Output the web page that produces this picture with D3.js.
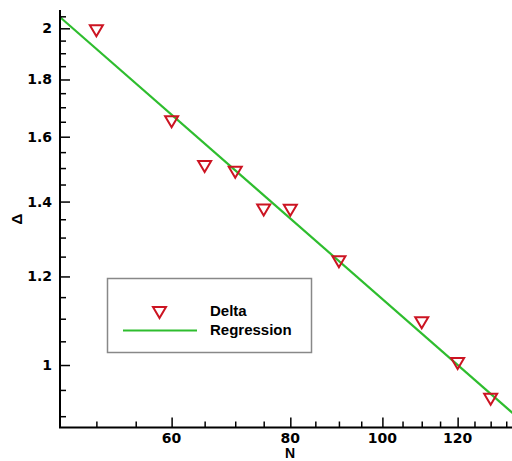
<!DOCTYPE html>
<html>
<head>
<meta charset="utf-8">
<script src="https://cdn.jsdelivr.net/npm/d3@7"></script>
<style>
  body { margin: 0; background: #fff; }
  svg { display: block; }
</style>
</head>
<body>
<svg id="chart" width="512" height="461"></svg>
<script>
// data
const nValues = [50, 60, 65, 70, 75, 80, 90, 110, 120, 130];
const deltaValues = [1.99, 1.65, 1.505, 1.487, 1.376, 1.375, 1.237, 1.091, 1.003, 0.932];

// regression line end points
const regN = [45, 140];
const regDelta = [2.073, 0.892];

const xTicks = [60, 80, 100, 120];
const xMinor = [50, 55, 65, 70, 75, 85, 90, 95, 105, 110, 115, 125, 130, 135];
const yTicks = [1, 1.2, 1.4, 1.6, 1.8, 2];
const yMinor = [0.9, 0.95, 1.05, 1.1, 1.15, 1.25, 1.3, 1.35, 1.45, 1.5, 1.55, 1.65, 1.7, 1.75, 1.85, 1.9, 1.95, 2.05];

const legendLabels = ["Delta", "Regression"];

const red = "#cc1422";
const green = "#2ebd2e";

let svg = d3.select("#chart");

const plotLeft = 60, plotRight = 512, plotTop = 10, plotBottom = 427.5;

// log-log axes
let x = d3.scaleLog().domain([45.78, 136.9]).range([plotLeft, plotRight]);
let y = d3.scaleLog().domain([0.8793, 2.0768]).range([plotBottom, plotTop]);

svg.append("defs").append("clipPath").attr("id", "plot")
  .append("rect").attr("x", plotLeft).attr("y", plotTop)
  .attr("width", plotRight - plotLeft).attr("height", plotBottom - plotTop);

// down triangle marker
const tri = "M-6.5,-5.5L6.5,-5.5L0,5.5Z";

// regression line
let line = d3.line().x((d) => x(d[0])).y((d) => y(d[1]));
svg.append("path")
  .datum(d3.zip(regN, regDelta))
  .attr("clip-path", "url(#plot)")
  .attr("d", line)
  .attr("fill", "none")
  .attr("stroke", green)
  .attr("stroke-width", 2.2);

// data points
svg.append("g")
  .selectAll("path")
  .data(d3.zip(nValues, deltaValues))
  .enter()
  .append("path")
  .attr("d", tri)
  .attr("transform", (d) => `translate(${x(d[0])},${y(d[1])})`)
  .attr("fill", "none")
  .attr("stroke", red)
  .attr("stroke-width", 2);

// axes, ticks pointing inward
let xAxis = svg.append("g").attr("transform", `translate(0,${plotBottom})`);
xAxis.call(d3.axisTop(x).tickValues(xTicks).tickSize(10).tickFormat(""));
xAxis.append("g").call(d3.axisTop(x).tickValues(xMinor).tickSize(6).tickFormat(""));
xAxis.selectAll(".domain").remove();
xAxis.selectAll("line").attr("stroke", "#000").attr("stroke-width", 1.5);

let yAxis = svg.append("g").attr("transform", `translate(${plotLeft},0)`);
yAxis.call(d3.axisRight(y).tickValues(yTicks).tickSize(10).tickFormat(""));
yAxis.append("g").call(d3.axisRight(y).tickValues(yMinor).tickSize(6).tickFormat(""));
yAxis.selectAll(".domain").remove();
yAxis.selectAll("line").attr("stroke", "#000").attr("stroke-width", 1.5);

// axis lines
svg.append("path")
  .attr("d", `M${plotLeft},${plotTop}V${plotBottom}H${plotRight}`)
  .attr("fill", "none")
  .attr("stroke", "#000")
  .attr("stroke-width", 2);

const tickFont = "'DejaVu Sans', sans-serif";

svg.append("g")
  .selectAll("text")
  .data(xTicks)
  .enter()
  .append("text")
  .attr("x", (d) => x(d))
  .attr("y", 443)
  .attr("text-anchor", "middle")
  .style("font", `bold 14px ${tickFont}`)
  .text((d) => d);

svg.append("g")
  .selectAll("text")
  .data(yTicks)
  .enter()
  .append("text")
  .attr("x", 52)
  .attr("y", (d) => y(d) + 5)
  .attr("text-anchor", "end")
  .style("font", `bold 14px ${tickFont}`)
  .text((d) => d);

// axis titles
svg.append("text")
  .attr("x", 290)
  .attr("y", 458)
  .attr("text-anchor", "middle")
  .style("font", "bold 14px 'Liberation Sans', Arial, sans-serif")
  .text("N");

svg.append("text")
  .attr("transform", "translate(22,219) rotate(-90)")
  .attr("text-anchor", "middle")
  .style("font", "bold 15px 'Liberation Sans', Arial, sans-serif")
  .text("Δ");

// legend
let legend = svg.append("g");
legend.append("rect")
  .attr("x", 107.5).attr("y", 278.5)
  .attr("width", 204).attr("height", 74)
  .attr("fill", "#fff")
  .attr("stroke", "#888")
  .attr("stroke-width", 1.5);

legend.append("path")
  .attr("d", tri)
  .attr("transform", "translate(159.5,312.5)")
  .attr("fill", "none")
  .attr("stroke", red)
  .attr("stroke-width", 2);

legend.append("line")
  .attr("x1", 123).attr("x2", 197)
  .attr("y1", 330.5).attr("y2", 330.5)
  .attr("stroke", green)
  .attr("stroke-width", 2);

legend.selectAll("text.lab")
  .data(legendLabels)
  .enter()
  .append("text")
  .attr("class", "lab")
  .attr("x", 210)
  .attr("y", (d, i) => 316 + i * 19)
  .style("font", "bold 15px 'Liberation Sans', Arial, sans-serif")
  .text((d) => d);
</script>
</body>
</html>
